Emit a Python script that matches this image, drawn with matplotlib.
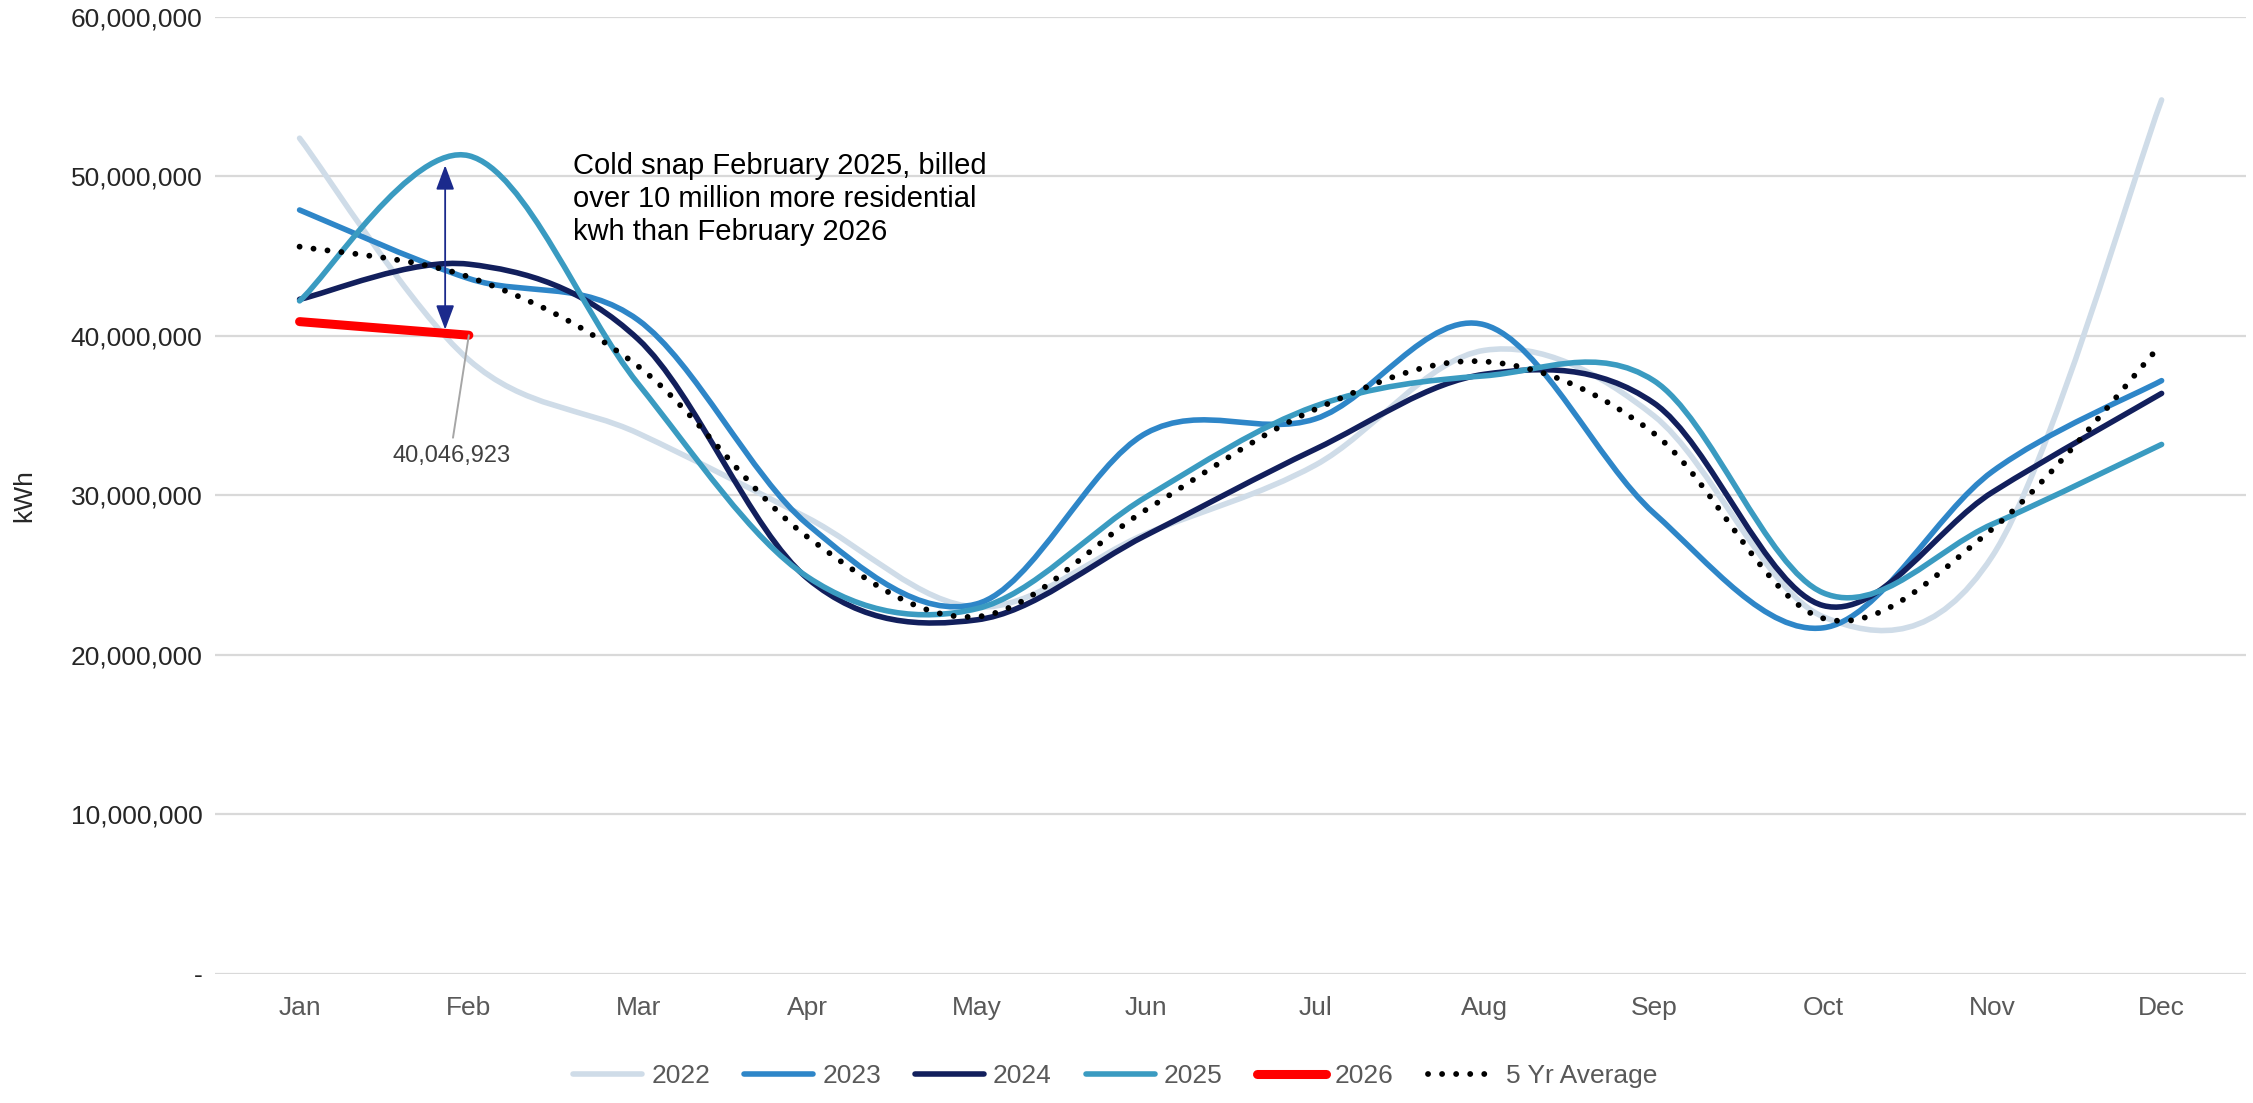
import matplotlib
matplotlib.use("Agg")
import matplotlib.pyplot as plt
from matplotlib.path import Path
from matplotlib.patches import PathPatch
from matplotlib.lines import Line2D
from matplotlib.ticker import FuncFormatter

plt.rcParams['font.family'] = ['Liberation Sans', 'DejaVu Sans']

months = ["Jan", "Feb", "Mar", "Apr", "May", "Jun", "Jul", "Aug", "Sep", "Oct", "Nov", "Dec"]
y2022 = [52.4, 38.5, 33.9, 28.6, 23.0, 27.6, 31.9, 39.1, 35.0, 22.4, 26.2, 54.8]
y2023 = [47.9, 43.6, 41.0, 28.2, 23.2, 33.9, 34.8, 40.7, 28.9, 21.7, 31.5, 37.2]
y2024 = [42.3, 44.5, 39.8, 24.8, 22.2, 27.5, 32.9, 37.6, 35.8, 23.1, 30.2, 36.4]
y2025 = [42.2, 51.3, 37.0, 24.9, 22.9, 29.9, 35.6, 37.5, 37.2, 23.9, 28.2, 33.2]
y2026 = [40.9, 40.046923]
avg5 = [45.6, 43.7, 38.1, 27.4, 22.4, 29.1, 35.4, 38.4, 33.9, 22.3, 27.9, 39.5]
series_names = ["2022", "2023", "2024", "2025", "2026", "5 Yr Average"]
yticks = [0, 10, 20, 30, 40, 50, 60]
annotation_text = "Cold snap February 2025, billed\nover 10 million more residential\nkwh than February 2026"
label_value = 40046923

M = 1e6
colors = {"2022": "#cfdce8", "2023": "#2e86c8", "2024": "#121f5c",
          "2025": "#3a9bc1", "2026": "#ff0000", "5 Yr Average": "#000000"}


def smooth_path(ys):
    xs = list(range(len(ys)))
    ys = [v * M for v in ys]
    n = len(xs)
    verts = [(xs[0], ys[0])]
    codes = [Path.MOVETO]
    for i in range(n - 1):
        i0 = max(i - 1, 0)
        i3 = min(i + 2, n - 1)
        c1 = (xs[i] + (xs[i + 1] - xs[i0]) / 6, ys[i] + (ys[i + 1] - ys[i0]) / 6)
        c2 = (xs[i + 1] - (xs[i3] - xs[i]) / 6, ys[i + 1] - (ys[i3] - ys[i]) / 6)
        verts += [c1, c2, (xs[i + 1], ys[i + 1])]
        codes += [Path.CURVE4] * 3
    return Path(verts, codes)


fig = plt.figure(figsize=(22.53, 11.03), dpi=100)
ax = fig.add_axes([0.0954, 0.117, 0.9016, 0.8676])

LW = 4.0
DOT = (0, (0.01, 2.4))
data = [("2022", y2022), ("2023", y2023), ("2024", y2024), ("2025", y2025)]
for name, vals in data:
    p = PathPatch(smooth_path(vals), fill=False, edgecolor=colors[name], lw=LW,
                  capstyle='round', joinstyle='round', zorder=3)
    ax.add_patch(p)

pa = PathPatch(smooth_path(avg5), fill=False, edgecolor='black', lw=4.2,
               linestyle=DOT, zorder=4)
pa.set_capstyle('round')
ax.add_patch(pa)

p26 = PathPatch(smooth_path(y2026), fill=False, edgecolor=colors["2026"], lw=6.5,
                capstyle='round', zorder=5)
ax.add_patch(p26)

ax.set_xlim(-0.5, 11.5)
ax.set_ylim(0, 60 * M)
ax.set_xticks(range(12))
ax.set_xticklabels(months)
ax.set_yticks([t * M for t in yticks])
ax.yaxis.set_major_formatter(FuncFormatter(lambda v, p: "-" if v == 0 else f"{v:,.0f}"))
ax.tick_params(axis='both', length=0, labelsize=19, labelcolor='#595959')
ax.tick_params(axis='y', pad=9, labelcolor='#262626')
ax.tick_params(axis='x', pad=16)
ax.grid(axis='y', color='#d9d9d9', lw=1.6)
ax.set_axisbelow(True)
for s in ax.spines.values():
    s.set_visible(False)
ax.set_ylabel("kWh", fontsize=19, color='#262626')
ax.yaxis.set_label_coords(-0.088, 0.5)

# double arrow annotation
ax.annotate('', xy=(0.86, 50.7 * M), xytext=(0.86, 40.4 * M),
            arrowprops=dict(arrowstyle='<|-|>,head_length=0.75,head_width=0.28',
                            color='#1b2a8c', lw=1.3, mutation_scale=20,
                            shrinkA=0, shrinkB=0), zorder=6)
ax.text(1.615, 51.55 * M, annotation_text, fontsize=21, color='#000000',
        va='top', ha='left', linespacing=1.24)

ax.annotate(f"{label_value:,}", xy=(1.0, label_value), xytext=(0.9, 32.5 * M),
            fontsize=17, color='#404040', ha='center', va='center',
            arrowprops=dict(arrowstyle='-', color='#a6a6a6', lw=1.4,
                            shrinkA=3, shrinkB=0, relpos=(0.5, 1.0)), zorder=6)

handles = [Line2D([], [], color=colors[n], lw=LW if n != "2026" else 6.5,
                  solid_capstyle='round') for n in series_names[:5]]
handles.append(Line2D([], [], color='black', lw=4.2, linestyle=DOT,
                      dash_capstyle='round'))
fig.legend(handles, series_names, loc='lower center', bbox_to_anchor=(0.495, -0.008),
           ncol=6, frameon=False, fontsize=19, handlelength=2.6, handletextpad=0.35,
           columnspacing=1.3, labelcolor='#595959')

fig.savefig("out.png", dpi=100)
